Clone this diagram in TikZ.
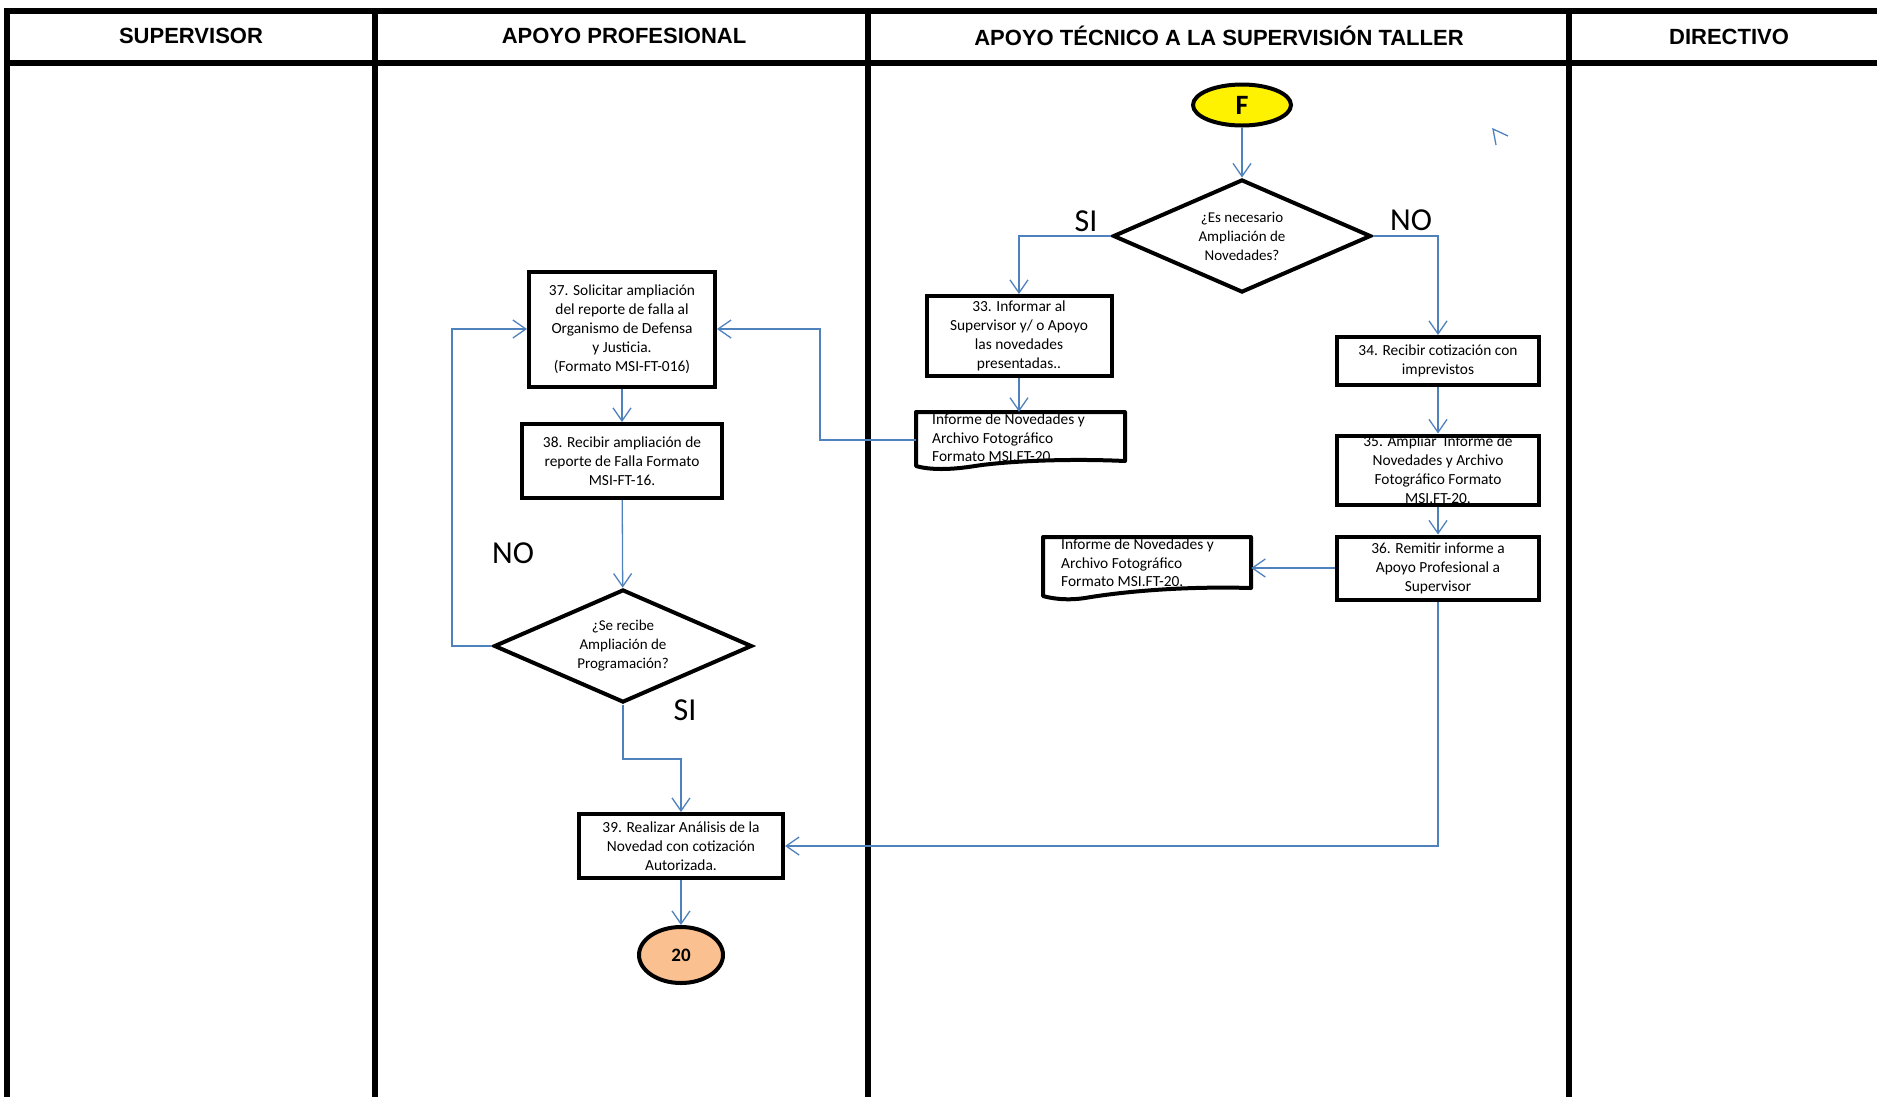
\documentclass[tikz,border=0pt]{standalone}
\usepackage{fontspec}
\setmainfont{Carlito}
\newfontfamily\hdrfont{Liberation Sans}
\usetikzlibrary{shapes.geometric,arrows.meta,calc}
\definecolor{lnblue}{RGB}{79,129,189}
\definecolor{peach}{RGB}{250,192,144}
\begin{document}
\begin{tikzpicture}[x=1pt,y=-1pt,
  box/.style={draw, line width=4pt, align=center, inner sep=0pt, font=\fontsize{15.4}{19}\selectfont},
  dia/.style={diamond, aspect=2.3, draw, line width=4pt, align=center, inner sep=0pt, font=\fontsize{15}{19}\selectfont},
  conn/.style={draw=lnblue, line width=1.3pt, -{Straight Barb[length=13pt,width=18pt]}},
  plain/.style={draw=lnblue, line width=1.3pt},
  frame/.style={line width=6pt},
  hdr/.style={font=\hdrfont\bfseries\fontsize{22}{24}\selectfont},
  lbl/.style={font=\fontsize{32}{36}\selectfont, inner sep=0pt},
  doctext/.style={anchor=west, align=left, inner sep=0pt, font=\fontsize{15.4}{18.5}\selectfont},
  docline/.style={line width=4pt, line join=round}
]
\useasboundingbox (0,0) rectangle (1877,1096);
% frame
\draw[frame] (7,1110) -- (7,11) -- (1890,11);
\draw[frame] (7,63) -- (1890,63);
\draw[frame] (375,11) -- (375,1110);
\draw[frame] (868,11) -- (868,1110);
\draw[frame] (1569,11) -- (1569,1110);
\node[hdr] (h1) at (191,36) {SUPERVISOR};
\node[hdr] (h2) at (624,36) {APOYO PROFESIONAL};
\node[hdr] (h3) at (1219,36) {APOYO TÉCNICO A LA SUPERVISIÓN TALLER};
\node[hdr] (h4) at (1729,37) {DIRECTIVO};

% nodes
\node[ellipse, draw, line width=4pt, fill=yellow, minimum width=98pt, minimum height=41pt, inner sep=0pt, font=\bfseries\fontsize{28}{30}\selectfont] (F) at (1242,105) {F};
\node[dia, minimum width=258pt, minimum height=113pt] (d1) at (1242,236) {¿Es necesario\\Ampliación de\\Novedades?};
\node[box, minimum width=185pt, minimum height=80pt] (b33) at (1019,336) {33. Informar al\\Supervisor y/ o Apoyo\\las novedades\\presentadas..};
\node[box, minimum width=202pt, minimum height=48pt] (b34) at (1438,361) {34. Recibir cotización con\\imprevistos};
\node[box, minimum width=202pt, minimum height=69pt] (b35) at (1438,470) {35. Ampliar\ \ Informe de\\Novedades y Archivo\\Fotográfico Formato\\MSI.FT-20.};
\node[box, minimum width=202pt, minimum height=63pt] (b36) at (1438,568) {36. Remitir informe a\\Apoyo Profesional a\\Supervisor};
\node[box, minimum width=186pt, minimum height=115pt] (b37) at (622,329) {37. Solicitar ampliación\\del reporte de falla al\\Organismo de Defensa\\y Justicia.\\(Formato MSI-FT-016)};
\node[box, minimum width=200pt, minimum height=74pt] (b38) at (622,461) {38. Recibir ampliación de\\reporte de Falla Formato\\MSI-FT-16.};
\node[dia, minimum width=258pt, minimum height=113pt] (d2) at (623,646) {¿Se recibe\\Ampliación de\\Programación?};
\node[box, minimum width=204pt, minimum height=64pt] (b39) at (681,846) {39. Realizar Análisis de la\\Novedad con cotización\\Autorizada.};
\node[ellipse, draw, line width=4pt, fill=peach, minimum width=84pt, minimum height=56pt, inner sep=0pt, font=\bfseries\fontsize{19}{21}\selectfont] (e20) at (681,955) {20};

% documents
\node[minimum width=209pt, minimum height=56pt, inner sep=0pt] (doc1) at (1020.5,440) {};
\node[doctext] (t1) at (932,438) {Informe de Novedades y\\Archivo Fotográfico\\Formato MSI.FT-20.};
\draw[docline] (916,466) -- (916,412) -- (1125,412) -- (1125,461) .. controls (1060,458) and (1000,462) .. (975,466) .. controls (950,470) and (930,470) .. (916,466) -- cycle;
\node[minimum width=208pt, minimum height=62pt, inner sep=0pt] (doc2) at (1147,568) {};
\node[doctext] (t2) at (1061,563) {Informe de Novedades y\\Archivo Fotográfico\\Formato MSI.FT-20.};
\draw[docline] (1043,596) -- (1043,537) -- (1251,537) -- (1251,588) .. controls (1180,586) and (1120,592) .. (1085,598) .. controls (1065,601) and (1050,598) .. (1043,596) -- cycle;

% labels
\node[lbl] (si1) at (1086,221) {SI};
\node[lbl] (no1) at (1411,220) {NO};
\node[lbl] (no2) at (513,553) {NO};
\node[lbl] (si2) at (685,710) {SI};

% connectors
\draw[conn] (F) -- (d1);
\draw[conn] (d1.west) -| (b33.north);
\draw[conn] (d1.east) -| (b34.north);
\draw[conn] (b33.south) -- (b33.south |- doc1.north);
\coordinate (k1) at (820,440);
\draw[conn] (doc1.west) -- (k1) |- (b37.east);
\draw[conn] (b34) -- (b35);
\draw[conn] (b35) -- (b36);
\draw[conn] (b36.west) -- (doc2.east);
\draw[conn] (b36.south) |- (b39.east);
\draw[conn] (b37) -- (b38);
\draw[conn] (b38) -- (d2);
\coordinate (k2) at (452,646);
\draw[conn] (d2.west) -- (k2) |- (b37.west);
\coordinate (k3) at (681,759);
\draw[conn] (d2.south) |- (k3) -- (b39.north);
\draw[conn] (b39) -- (e20);
% stray arrowhead
\draw[plain] (1496,145) -- (1493,129) -- (1508,136);
\end{tikzpicture}
\end{document}
